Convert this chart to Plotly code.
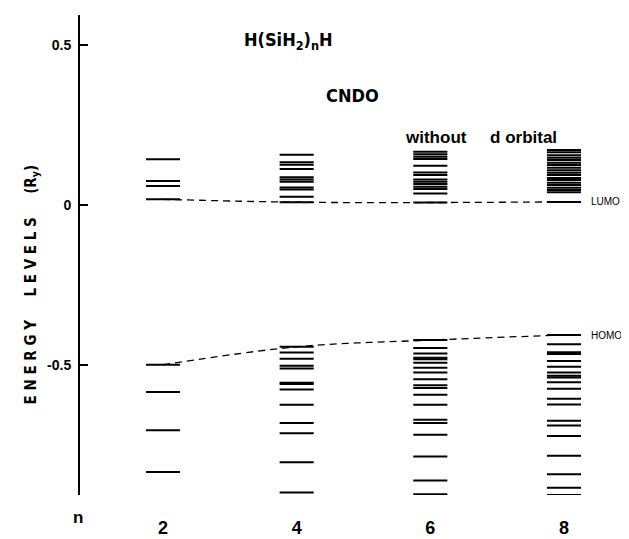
import plotly.graph_objects as go

# ---- data (energy levels in Ry) ----
chain_lengths = [2, 4, 6, 8]
levels_n2 = [0.143, 0.075, 0.060, 0.018,
             -0.499, -0.584, -0.704, -0.834]
levels_n4 = [0.157, 0.134, 0.126, 0.113, 0.087, 0.080, 0.073, 0.055, 0.049, 0.026, 0.009,
             -0.443, -0.461, -0.480, -0.502, -0.511, -0.555, -0.559, -0.576, -0.624,
             -0.681, -0.713, -0.804, -0.898]
levels_n6 = [0.167, 0.159, 0.151, 0.144, 0.123, 0.102, 0.094, 0.080, 0.073, 0.066, 0.057,
             0.050, 0.036, 0.008,
             -0.422, -0.447, -0.464, -0.477, -0.482, -0.493, -0.508, -0.523, -0.544,
             -0.563, -0.572, -0.593, -0.624, -0.671, -0.681, -0.718, -0.786, -0.861, -0.904]
levels_n8 = [0.172, 0.165, 0.156, 0.148, 0.141, 0.132, 0.125, 0.117, 0.109, 0.101, 0.094,
             0.085, 0.078, 0.070, 0.0625, 0.054, 0.047, 0.040, 0.010,
             -0.406, -0.435, -0.460, -0.465, -0.487, -0.505, -0.523, -0.533, -0.539,
             -0.554, -0.574, -0.605, -0.623, -0.674, -0.689, -0.722, -0.783, -0.841,
             -0.883, -0.906]
all_levels = [levels_n2, levels_n4, levels_n6, levels_n8]
y_tick_vals = [0.5, 0, -0.5]
y_tick_text = ["0.5", "0", "-0.5"]
x_tick_text = ["2", "4", "6", "8"]

HALF = 0.255  # half width of a level bar, in n units

lumo = [min(v for v in lv if v > 0) for lv in all_levels]
homo = [max(v for v in lv if v < 0) for lv in all_levels]

fig = go.Figure()

# dashed HOMO / LUMO trend lines (drawn first so bars cover them)
for series in (lumo, homo):
    fig.add_trace(go.Scatter(x=chain_lengths, y=series, mode="lines",
                             line=dict(color="black", width=1.3, dash="7px,5px", shape="spline"),
                             showlegend=False, hoverinfo="skip"))

# level bars
xs, ys = [], []
for n, lv in zip(chain_lengths, all_levels):
    for e in lv:
        xs += [n - HALF, n + HALF, None]
        ys += [e, e, None]
fig.add_trace(go.Scatter(x=xs, y=ys, mode="lines",
                         line=dict(color="black", width=2),
                         showlegend=False, hoverinfo="skip"))

bold = "Liberation Sans, Arial, sans-serif"
narrow = "Liberation Sans Narrow, DejaVu Sans Condensed, Liberation Sans, sans-serif"

# page has an 8px body margin: figure occupies page x 8..629, y 8..539
fig.update_layout(
    width=621, height=531,
    margin=dict(l=72, r=29, t=7, b=44),
    paper_bgcolor="white", plot_bgcolor="white",
    xaxis=dict(range=[0.758, 8.539], showgrid=False, zeroline=False, showline=False,
               tickvals=chain_lengths, ticktext=x_tick_text, ticks="",
               ticklabelstandoff=20, automargin=False,
               tickfont=dict(family=bold, size=18, color="black", weight="bold")),
    yaxis=dict(range=[-0.906, 0.594], showgrid=False, zeroline=False,
               showline=True, linecolor="black", linewidth=2, automargin=False,
               tickvals=y_tick_vals, ticktext=y_tick_text,
               ticks="inside", ticklen=8, tickwidth=2, tickcolor="black",
               ticklabelstandoff=4,
               tickfont=dict(family=bold, size=14, color="black", weight="bold")),
)


def px_to_paper(px, py):
    # page pixel -> paper coords (plot area spans page x 80..600, y 15..495)
    return (px - 80) / 520, (495 - py) / 480


texts = [
    (288, 27, "<b>H(SiH<sub>2</sub>)<sub>n</sub>H</b>", narrow, 18, "center"),
    (352, 83, "<b>CNDO</b>", narrow, 18, "center"),
    (403, 126, "<b>without&nbsp;&nbsp;&nbsp;&nbsp;&nbsp;d orbital</b>", bold, 17, "left"),
]
for px, py, t, fam, sz, anc in texts:
    xp, yp = px_to_paper(px, py)
    fig.add_annotation(x=xp, y=yp, xref="paper", yref="paper", text=t, showarrow=False,
                       xanchor=anc, font=dict(family=fam, size=sz, color="black"))

xp, yp = px_to_paper(71, 529)
fig.add_annotation(x=xp, y=yp, xref="paper", yref="paper", text="<b>n</b>", showarrow=False,
                   font=dict(family=bold, size=17, color="black"))

xp, yp = px_to_paper(19, 285)
fig.add_annotation(x=xp, y=yp, xref="paper", yref="paper", textangle=-90, showarrow=False,
                   text="<b>E N E R G Y     L E V E L S     (R<sub>y</sub>)</b>",
                   font=dict(family=narrow, size=15, color="black"))

fig.add_annotation(x=8.37, y=lumo[-1], text="LUMO", showarrow=False, xanchor="left",
                   font=dict(family=bold, size=10, color="black"))
fig.add_annotation(x=8.37, y=homo[-1], text="HOMO", showarrow=False, xanchor="left",
                   font=dict(family=bold, size=10, color="black"))

fig.write_html("out.html")
